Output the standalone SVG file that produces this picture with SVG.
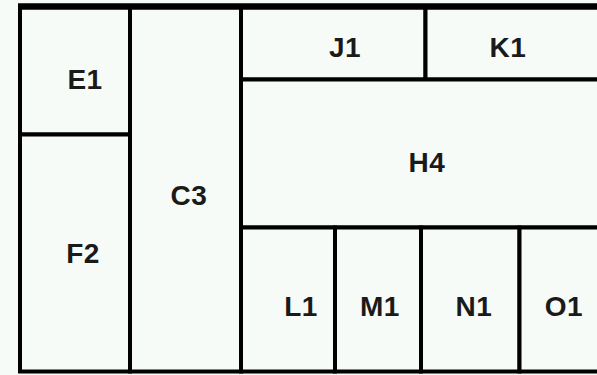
<svg xmlns="http://www.w3.org/2000/svg" width="597" height="375" viewBox="0 0 597 375">
<style>
.cell{fill:#f7fbf8;stroke:#000;stroke-width:4}
.lbl{font-family:"Liberation Sans",Arial,sans-serif;font-weight:bold;font-size:28px;fill:#1a1a1a;text-anchor:middle;letter-spacing:0.5px}
</style>
<rect x="0" y="0" width="597" height="375" fill="#f7fbf8"/>
<g id="C3"><rect class="cell" x="130" y="6.5" width="111" height="365"/><text class="lbl" x="189" y="205">C3</text></g>
<g id="E1"><rect class="cell" x="20" y="6.5" width="110" height="128"/><text class="lbl" x="85" y="89">E1</text></g>
<g id="F2"><rect class="cell" x="20" y="134.5" width="110" height="237"/><text class="lbl" x="83" y="263">F2</text></g>
<g id="J1"><rect class="cell" x="241" y="6.5" width="184.5" height="73"/><text class="lbl" x="345" y="57">J1</text></g>
<g id="K1"><rect class="cell" x="425.5" y="6.5" width="220" height="73"/><text class="lbl" x="508" y="57">K1</text></g>
<g id="H4"><rect class="cell" x="241" y="79.5" width="404" height="148"/><text class="lbl" x="427" y="172">H4</text></g>
<g id="L1"><rect class="cell" x="241" y="227.5" width="94" height="144"/><text class="lbl" x="301" y="316">L1</text></g>
<g id="M1"><rect class="cell" x="335" y="227.5" width="86" height="144"/><text class="lbl" x="380" y="316">M1</text></g>
<g id="N1"><rect class="cell" x="421" y="227.5" width="98.5" height="144"/><text class="lbl" x="474" y="316">N1</text></g>
<g id="O1"><rect class="cell" x="519.5" y="227.5" width="125" height="144"/><text class="lbl" x="564" y="316">O1</text></g>
<g id="connectors"><line x1="18" y1="6.5" x2="597" y2="6.5" stroke="#000" stroke-width="6.5"/></g>
</svg>
